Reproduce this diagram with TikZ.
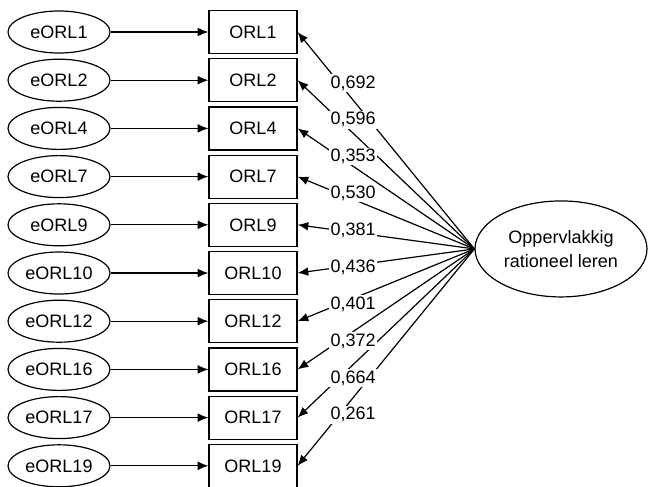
\documentclass[tikz,border=0pt]{standalone}
\usepackage{fontspec}
\setmainfont{Liberation Sans}
\usetikzlibrary{positioning,shapes.geometric,arrows.meta}
\tikzstyle{err} = [draw, ellipse, minimum width=76.5pt, minimum height=31.5pt, inner sep=0pt]
\tikzstyle{item} = [draw, rectangle, minimum width=66pt, minimum height=32.25pt, inner sep=0pt]
\tikzstyle{factor} = [draw, ellipse, minimum width=129pt, minimum height=72pt, inner sep=0pt, align=center]
\tikzstyle{load} = [fill=white, inner sep=1pt]
\tikzstyle{input} = [coordinate]

\begin{document}
\begin{tikzpicture}[node distance=36.15pt, >={Latex[length=8pt,width=6.5pt]}, line width=0.9pt, font=\fontsize{13.5}{17.5}\selectfont]
\useasboundingbox (-44.25pt,-340.5pt) rectangle (441.75pt,24pt);

\node [err] (e1) {eORL1};
\node [err, below of=e1] (e2) {eORL2};
\node [err, below of=e2] (e4) {eORL4};
\node [err, below of=e4] (e7) {eORL7};
\node [err, below of=e7] (e9) {eORL9};
\node [err, below of=e9] (e10) {eORL10};
\node [err, below of=e10] (e12) {eORL12};
\node [err, below of=e12] (e16) {eORL16};
\node [err, below of=e16] (e17) {eORL17};
\node [err, below of=e17] (e19) {eORL19};

\node [item, right of=e1, node distance=145.5pt] (orl1) {ORL1};
\node [item, right of=e2, node distance=145.5pt] (orl2) {ORL2};
\node [item, right of=e4, node distance=145.5pt] (orl4) {ORL4};
\node [item, right of=e7, node distance=145.5pt] (orl7) {ORL7};
\node [item, right of=e9, node distance=145.5pt] (orl9) {ORL9};
\node [item, right of=e10, node distance=145.5pt] (orl10) {ORL10};
\node [item, right of=e12, node distance=145.5pt] (orl12) {ORL12};
\node [item, right of=e16, node distance=145.5pt] (orl16) {ORL16};
\node [item, right of=e17, node distance=145.5pt] (orl17) {ORL17};
\node [item, right of=e19, node distance=145.5pt] (orl19) {ORL19};

\node [input, below of=e9, node distance=18.1pt] (mid) {};
\node [factor, right of=mid, node distance=376.5pt] (orl) {Oppervlakkig\\rationeel leren};

\draw [->] (e1) -- (orl1);
\draw [->] (e2) -- (orl2);
\draw [->] (e4) -- (orl4);
\draw [->] (e7) -- (orl7);
\draw [->] (e9) -- (orl9);
\draw [->] (e10) -- (orl10);
\draw [->] (e12) -- (orl12);
\draw [->] (e16) -- (orl16);
\draw [->] (e17) -- (orl17);
\draw [->] (e19) -- (orl19);

\draw [->] (orl.west) -- (orl1.east);
\draw [->] (orl.west) -- (orl2.east);
\draw [->] (orl.west) -- (orl4.east);
\draw [->] (orl.west) -- (orl7.east);
\draw [->] (orl.west) -- (orl9.east);
\draw [->] (orl.west) -- (orl10.east);
\draw [->] (orl.west) -- (orl12.east);
\draw [->] (orl.west) -- (orl16.east);
\draw [->] (orl.west) -- (orl17.east);
\draw [->] (orl.west) -- (orl19.east);

% loadings on top of the lines
\path (orl.west) -- node [load, pos=0.765, xshift=10.5pt] {0,692} (orl1.east);
\path (orl.west) -- node [load, pos=0.765, xshift=10.5pt] {0,596} (orl2.east);
\path (orl.west) -- node [load, pos=0.765, xshift=10.5pt] {0,353} (orl4.east);
\path (orl.west) -- node [load, pos=0.765, xshift=10.5pt] {0,530} (orl7.east);
\path (orl.west) -- node [load, pos=0.765, xshift=10.5pt] {0,381} (orl9.east);
\path (orl.west) -- node [load, pos=0.765, xshift=10.5pt] {0,436} (orl10.east);
\path (orl.west) -- node [load, pos=0.765, xshift=10.5pt] {0,401} (orl12.east);
\path (orl.west) -- node [load, pos=0.765, xshift=10.5pt] {0,372} (orl16.east);
\path (orl.west) -- node [load, pos=0.765, xshift=10.5pt] {0,664} (orl17.east);
\path (orl.west) -- node [load, pos=0.765, xshift=10.5pt] {0,261} (orl19.east);

\end{tikzpicture}
\end{document}
